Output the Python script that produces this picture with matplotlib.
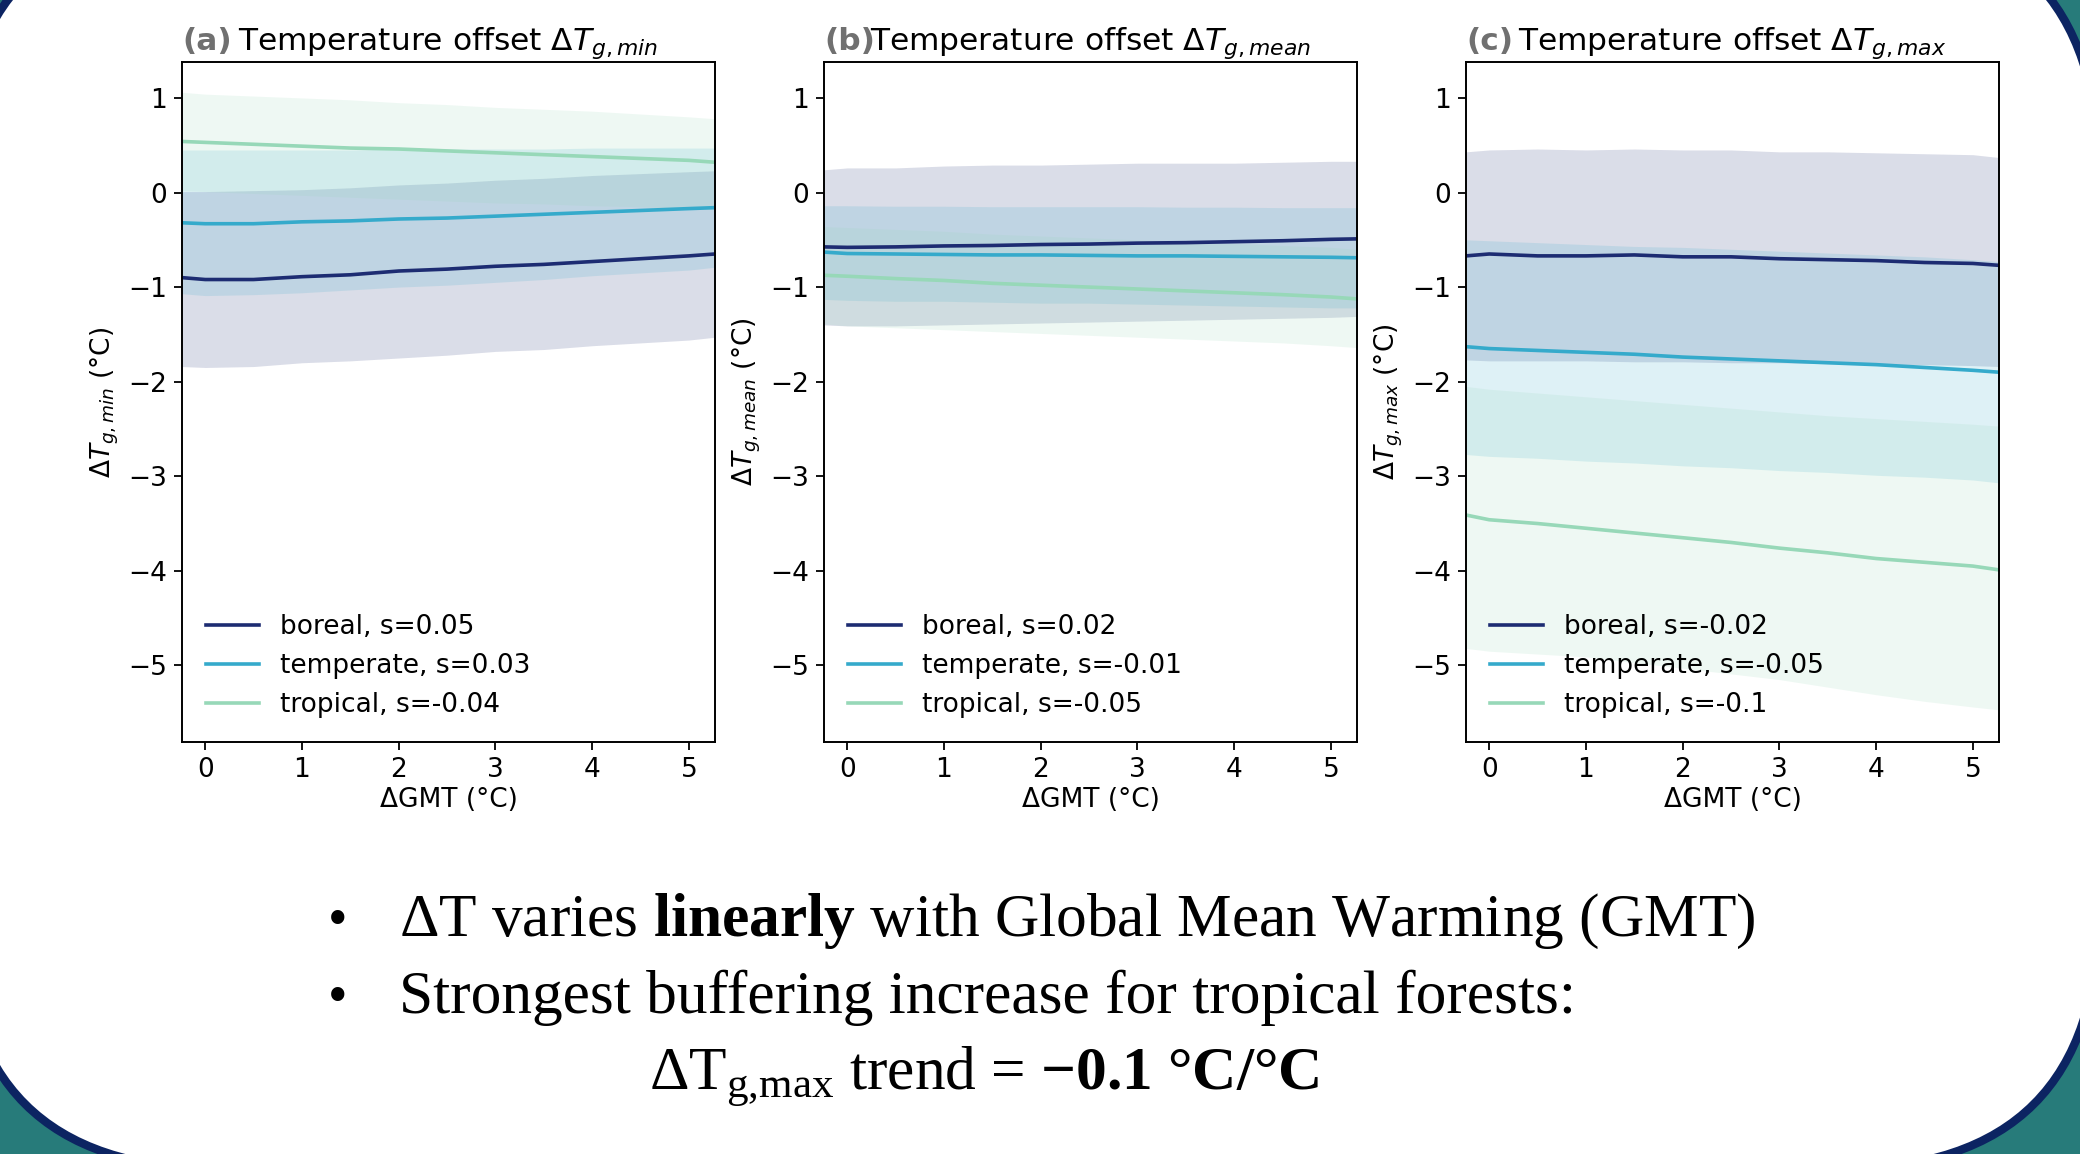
import numpy as np
import matplotlib
matplotlib.use("Agg")
import matplotlib.pyplot as plt
from matplotlib.patches import FancyBboxPatch

plt.rcParams['mathtext.rm'] = 'Liberation Serif'
plt.rcParams['mathtext.it'] = 'Liberation Serif:italic'
plt.rcParams['mathtext.bf'] = 'Liberation Serif:bold'

# ---------------- data ----------------
gmt = [-0.24, 0.0, 0.5, 1.0, 1.5, 2.0, 2.5, 3.0, 3.5, 4.0, 4.5, 5.0, 5.27]
biomes = ["boreal", "temperate", "tropical"]
panel_tags = ["(a)", "(b)", "(c)"]
panel_keys = ["min", "mean", "max"]
slopes_min = ["0.05", "0.03", "-0.04"]
slopes_mean = ["0.02", "-0.01", "-0.05"]
slopes_max = ["-0.02", "-0.05", "-0.1"]
xticks = [0, 1, 2, 3, 4, 5]
yticks = [-5, -4, -3, -2, -1, 0, 1]

# panel (a) dT_g,min
min_boreal = [-0.90, -0.92, -0.92, -0.89, -0.87, -0.83, -0.81, -0.78, -0.76, -0.73, -0.70, -0.67, -0.65]
min_boreal_lo = [-1.84, -1.85, -1.84, -1.80, -1.78, -1.75, -1.72, -1.68, -1.66, -1.62, -1.59, -1.56, -1.53]
min_boreal_hi = [0.01, 0.01, 0.02, 0.03, 0.05, 0.08, 0.10, 0.13, 0.15, 0.18, 0.20, 0.22, 0.23]
min_temperate = [-0.32, -0.33, -0.33, -0.31, -0.30, -0.28, -0.27, -0.25, -0.23, -0.21, -0.19, -0.17, -0.16]
min_temperate_lo = [-1.07, -1.09, -1.08, -1.06, -1.03, -1.00, -0.98, -0.95, -0.92, -0.88, -0.85, -0.82, -0.79]
min_temperate_hi = [0.45, 0.45, 0.45, 0.45, 0.45, 0.46, 0.46, 0.46, 0.46, 0.47, 0.47, 0.47, 0.47]
min_tropical = [0.54, 0.53, 0.51, 0.49, 0.47, 0.46, 0.44, 0.42, 0.40, 0.38, 0.36, 0.34, 0.32]
min_tropical_lo = [0.02, 0.01, -0.01, -0.03, -0.05, -0.07, -0.09, -0.11, -0.12, -0.14, -0.15, -0.17, -0.18]
min_tropical_hi = [1.06, 1.04, 1.02, 1.00, 0.98, 0.95, 0.93, 0.90, 0.88, 0.86, 0.83, 0.80, 0.78]

# panel (b) dT_g,mean
mean_boreal = [-0.575, -0.58, -0.575, -0.565, -0.56, -0.55, -0.545, -0.535, -0.53, -0.52, -0.51, -0.495, -0.49]
mean_boreal_lo = [-1.40, -1.41, -1.41, -1.40, -1.39, -1.38, -1.37, -1.36, -1.35, -1.34, -1.33, -1.32, -1.31]
mean_boreal_hi = [0.24, 0.26, 0.26, 0.28, 0.29, 0.29, 0.30, 0.31, 0.31, 0.31, 0.32, 0.33, 0.33]
mean_temperate = [-0.63, -0.645, -0.65, -0.655, -0.66, -0.66, -0.665, -0.67, -0.67, -0.675, -0.68, -0.685, -0.69]
mean_temperate_lo = [-1.13, -1.14, -1.15, -1.15, -1.16, -1.17, -1.17, -1.18, -1.19, -1.20, -1.21, -1.22, -1.22]
mean_temperate_hi = [-0.14, -0.14, -0.145, -0.145, -0.15, -0.15, -0.15, -0.15, -0.155, -0.155, -0.16, -0.16, -0.16]
mean_tropical = [-0.875, -0.885, -0.91, -0.93, -0.96, -0.98, -1.00, -1.02, -1.04, -1.06, -1.08, -1.105, -1.125]
mean_tropical_lo = [-1.39, -1.41, -1.43, -1.45, -1.47, -1.49, -1.51, -1.53, -1.55, -1.57, -1.59, -1.62, -1.64]
mean_tropical_hi = [-0.36, -0.37, -0.39, -0.41, -0.44, -0.46, -0.48, -0.50, -0.52, -0.54, -0.56, -0.58, -0.60]

# panel (c) dT_g,max
max_boreal = [-0.67, -0.65, -0.67, -0.67, -0.66, -0.68, -0.68, -0.70, -0.71, -0.72, -0.74, -0.75, -0.77]
max_boreal_lo = [-1.77, -1.78, -1.78, -1.78, -1.79, -1.79, -1.80, -1.80, -1.81, -1.82, -1.82, -1.83, -1.84]
max_boreal_hi = [0.43, 0.45, 0.46, 0.45, 0.46, 0.45, 0.45, 0.43, 0.43, 0.42, 0.41, 0.40, 0.37]
max_temperate = [-1.63, -1.65, -1.67, -1.69, -1.71, -1.74, -1.76, -1.78, -1.80, -1.82, -1.85, -1.88, -1.90]
max_temperate_lo = [-2.77, -2.79, -2.81, -2.84, -2.86, -2.89, -2.91, -2.94, -2.96, -2.99, -3.01, -3.04, -3.07]
max_temperate_hi = [-0.50, -0.51, -0.53, -0.55, -0.57, -0.58, -0.60, -0.62, -0.64, -0.66, -0.68, -0.71, -0.73]
max_tropical = [-3.41, -3.46, -3.50, -3.55, -3.60, -3.65, -3.70, -3.76, -3.81, -3.87, -3.91, -3.95, -3.99]
max_tropical_lo = [-4.82, -4.85, -4.88, -4.91, -4.97, -5.03, -5.09, -5.15, -5.23, -5.31, -5.38, -5.44, -5.47]
max_tropical_hi = [-2.05, -2.08, -2.12, -2.16, -2.20, -2.24, -2.28, -2.32, -2.36, -2.39, -2.42, -2.45, -2.47]

bullet_lines = [
    r"ΔT varies $\mathbf{linearly}$ with Global Mean Warming (GMT)",
    "Strongest buffering increase for tropical forests:",
]
trend_line = r"ΔT$_{\mathrm{g{,}max}}$ trend = $\mathbf{-0.1\ °C/°C}$"

# ---------------- style ----------------
W, H = 2080, 1154
TEAL = "#277b7a"
NAVY = "#0c2462"
colors = {"boreal": "#1d2c72", "temperate": "#35aacb", "tropical": "#97d8b8"}

panels = [
    (min_boreal, min_boreal_lo, min_boreal_hi, min_temperate, min_temperate_lo, min_temperate_hi,
     min_tropical, min_tropical_lo, min_tropical_hi, slopes_min),
    (mean_boreal, mean_boreal_lo, mean_boreal_hi, mean_temperate, mean_temperate_lo, mean_temperate_hi,
     mean_tropical, mean_tropical_lo, mean_tropical_hi, slopes_mean),
    (max_boreal, max_boreal_lo, max_boreal_hi, max_temperate, max_temperate_lo, max_temperate_hi,
     max_tropical, max_tropical_lo, max_tropical_hi, slopes_max),
]

fig = plt.figure(figsize=(W / 100, H / 100), dpi=100, facecolor=TEAL)

bg = fig.add_axes([0, 0, 1, 1])
bg.set_xlim(0, W)
bg.set_ylim(H, 0)
bg.axis("off")
bg.add_patch(FancyBboxPatch((-40, -85), W + 59, H + 100,
                            boxstyle="round,pad=0,rounding_size=260",
                            fc="white", ec=NAVY, lw=6))

lefts_px = [182, 824, 1466]
for i, p in enumerate(panels):
    ax = fig.add_axes([lefts_px[i] / W, 1 - 742 / H, 533 / W, 680 / H])
    series = [(p[0], p[1], p[2]), (p[3], p[4], p[5]), (p[6], p[7], p[8])]
    slopes = p[9]
    for b, (m, lo, hi) in zip(biomes, series):
        ax.fill_between(gmt, lo, hi, color=colors[b], alpha=0.16, lw=0)
    for b, (m, lo, hi), s in zip(biomes, series, slopes):
        ax.plot(gmt, m, color=colors[b], lw=2.6, label=f"{b}, s={s}")
    ax.set_xlim(-0.24, 5.27)
    ax.set_ylim(-5.81, 1.38)
    ax.set_xticks(xticks)
    ax.set_yticks(yticks)
    ax.tick_params(labelsize=19, length=6, width=1.3, pad=5)
    for sp in ax.spines.values():
        sp.set_linewidth(1.4)
    key = panel_keys[i]
    ax.set_title(rf"Temperature offset $\Delta T_{{g,{key}}}$", fontsize=22.5, pad=9)
    ax.annotate(panel_tags[i], xy=(0, 1), xycoords="axes fraction",
                xytext=(0, 9), textcoords="offset points", ha="left", va="baseline",
                fontsize=22.5, fontweight="bold", color="#707070")
    ax.set_ylabel(rf"$\Delta T_{{g,{key}}}$ (°C)", fontsize=19, labelpad=5)
    ax.set_xlabel("ΔGMT (°C)", fontsize=19, labelpad=3)
    ax.legend(loc="lower left", frameon=False, fontsize=19, handlelength=2.0,
              labelspacing=0.5, handletextpad=0.8)

# bottom slide text
for k, (line, yb) in enumerate(zip(bullet_lines, [936, 1013])):
    bg.text(338, yb, "•", fontsize=40, family="Liberation Serif", ha="center", va="baseline")
    bg.text(399, yb, line, fontsize=44.2, family="Liberation Serif", ha="left", va="baseline",
            math_fontfamily="custom")
bg.text(649, 1090, trend_line, fontsize=44.2, family="Liberation Serif", ha="left", va="baseline",
        math_fontfamily="custom")

fig.savefig("out.png", dpi=100, facecolor=TEAL)
